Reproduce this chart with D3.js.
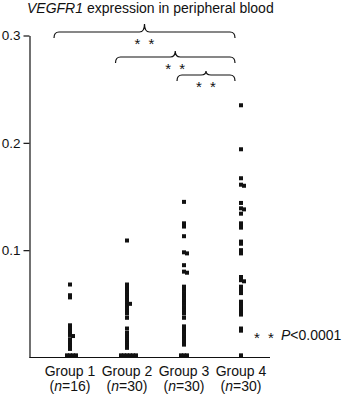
<!DOCTYPE html>
<html>
<head>
<meta charset="utf-8">
<script src="https://cdn.jsdelivr.net/npm/d3@7"></script>
<style>
  body { margin: 0; background: #fff; }
  svg { display: block; font-family: "Liberation Sans", Arial, Helvetica, sans-serif; }
</style>
</head>
<body>
<svg id="chart" width="344" height="400"></svg>
<script>
// groups and sample sizes
const groups = ['Group 1', 'Group 2', 'Group 3', 'Group 4']
const groupN = [16, 30, 30, 30]

// VEGFR1 expression values
const group1 = [0.068, 0.058, 0.056, 0.030, 0.027, 0.024, 0.021, 0.020, 0.017, 0.014, 0.011, 0.008,
  0.002, 0.002, 0.002, 0.002]
const group2 = [0.109,
  0.068, 0.066, 0.063, 0.061, 0.058, 0.056, 0.053, 0.051, 0.050, 0.048, 0.046, 0.043, 0.041,
  0.037, 0.027,
  0.023, 0.021, 0.019, 0.017, 0.015, 0.013, 0.011, 0.009,
  0.002, 0.002, 0.002, 0.002, 0.002, 0.002]
const group3 = [0.145, 0.125, 0.122, 0.113, 0.098, 0.097, 0.086, 0.080, 0.079,
  0.066, 0.063, 0.060, 0.057, 0.055, 0.052, 0.050, 0.047, 0.044, 0.041, 0.037,
  0.029, 0.026, 0.023, 0.020, 0.017, 0.014, 0.012,
  0.002, 0.002, 0.002]
const group4 = [0.235, 0.194, 0.167, 0.161, 0.160, 0.144, 0.139, 0.138, 0.134, 0.125, 0.123, 0.121,
  0.108, 0.106, 0.100, 0.097, 0.075, 0.072, 0.071, 0.066, 0.063, 0.060,
  0.052, 0.049, 0.046, 0.043, 0.040, 0.027, 0.025, 0.002]
const groupValues = [group1, group2, group3, group4]

// y ticks
const yTicks = [0.1, 0.2, 0.3]

// significance brackets: [from group index, to group index]
const comparisons = [[0, 3], [1, 3], [2, 3]]

const margin = { top: 35.5, left: 29.5, bottom: 42.5 }
const height = 400
const ink = '#111'
const fontSize = '14px'

const svg = d3.select('#chart')

const y = d3.scaleLinear()
  .domain([0, 0.3])
  .range([height - margin.bottom, margin.top])

const x = d3.scalePoint()
  .domain(groups)
  .range([70, 241])

// title
const title = svg.append('text')
  .attr('x', 27)
  .attr('y', 13)
  .attr('font-size', fontSize)
  .attr('fill', ink)
title.append('tspan').attr('font-style', 'italic').text('VEGFR1')
title.append('tspan').text(' expression in peripheral blood')

// y axis
const yAxis = svg.append('g')
  .attr('transform', `translate(${margin.left},0)`)
  .call(d3.axisLeft(y).tickValues(yTicks).tickSize(6).tickSizeOuter(0).tickPadding(3).tickFormat(d3.format('.1f')))
yAxis.selectAll('path, line').attr('stroke', ink).attr('stroke-width', 1.2)
yAxis.selectAll('text').attr('font-size', '13.5px').attr('fill', ink).attr('font-family', null)

// x axis line, no ticks
svg.append('line')
  .attr('x1', margin.left)
  .attr('x2', x(groups[3]) + 29)
  .attr('y1', y(0))
  .attr('y2', y(0))
  .attr('stroke', ink)
  .attr('stroke-width', 1.2)

// group labels
groups.forEach((g, i) => {
  svg.append('text')
    .attr('x', x(g))
    .attr('y', 376)
    .attr('text-anchor', 'middle')
    .attr('font-size', fontSize)
    .attr('fill', ink)
    .text(g)
  const n = svg.append('text')
    .attr('x', x(g))
    .attr('y', 391)
    .attr('text-anchor', 'middle')
    .attr('font-size', fontSize)
    .attr('fill', ink)
  n.append('tspan').text('(')
  n.append('tspan').attr('font-style', 'italic').text('n')
  n.append('tspan').text(`=${groupN[i]})`)
})

// simple dodge so that near-equal values sit side by side
const size = 4
const step = 3
const dodge = (values) => {
  const placed = []
  values.slice().sort((a, b) => b - a).forEach(v => {
    const py = y(v)
    let k = 0
    let dx = 0
    while (true) {
      dx = k === 0 ? 0 : (k % 2 ? 1 : -1) * Math.ceil(k / 2) * step
      if (!placed.some(p => Math.abs(p.py - py) < 2 && Math.abs(p.dx - dx) < step)) break
      k++
    }
    placed.push({ v, py, dx })
  })
  return placed
}

groupValues.forEach((vals, i) => {
  svg.append('g')
    .selectAll('rect')
    .data(dodge(vals))
    .enter()
    .append('rect')
    .attr('x', d => x(groups[i]) + d.dx - size / 2)
    .attr('y', d => d.py - size / 2)
    .attr('width', size)
    .attr('height', size)
    .attr('fill', ink)
})

// curly brackets with stars
const braceY = [32, 57, 75]
const cusp = [8, 6, 4]
const brace = (x1, x2, yy, h) => {
  const xm = (x1 + x2) / 2
  const r = 5
  return `M${x1},${yy + 6} Q${x1},${yy} ${x1 + r},${yy} L${xm - r},${yy} Q${xm},${yy} ${xm},${yy - h}` +
    ` Q${xm},${yy} ${xm + r},${yy} L${x2 - r},${yy} Q${x2},${yy} ${x2},${yy + 6}`
}
comparisons.forEach(([a, b], i) => {
  const x1 = x(groups[a]) - 16 + a * 4.5
  const x2 = x(groups[b]) - 6
  svg.append('path')
    .attr('d', brace(x1, x2, braceY[i], cusp[i]))
    .attr('fill', 'none')
    .attr('stroke', ink)
    .attr('stroke-width', 1.2)
  const xm = (x1 + x2) / 2
  ;[-7, 7].forEach(o => {
    svg.append('text')
      .attr('x', xm + o)
      .attr('y', braceY[i] + 17)
      .attr('text-anchor', 'middle')
      .attr('font-size', '15px')
      .attr('fill', ink)
      .text('*')
  })
})

// significance legend
;[257, 271].forEach(sx => {
  svg.append('text')
    .attr('x', sx)
    .attr('y', 343)
    .attr('text-anchor', 'middle')
    .attr('font-size', '15px')
    .attr('fill', ink)
    .text('*')
})
const pl = svg.append('text')
  .attr('x', 281)
  .attr('y', 340)
  .attr('font-size', fontSize)
  .attr('fill', ink)
pl.append('tspan').attr('font-style', 'italic').text('P')
pl.append('tspan').text('<0.0001')
</script>
</body>
</html>
